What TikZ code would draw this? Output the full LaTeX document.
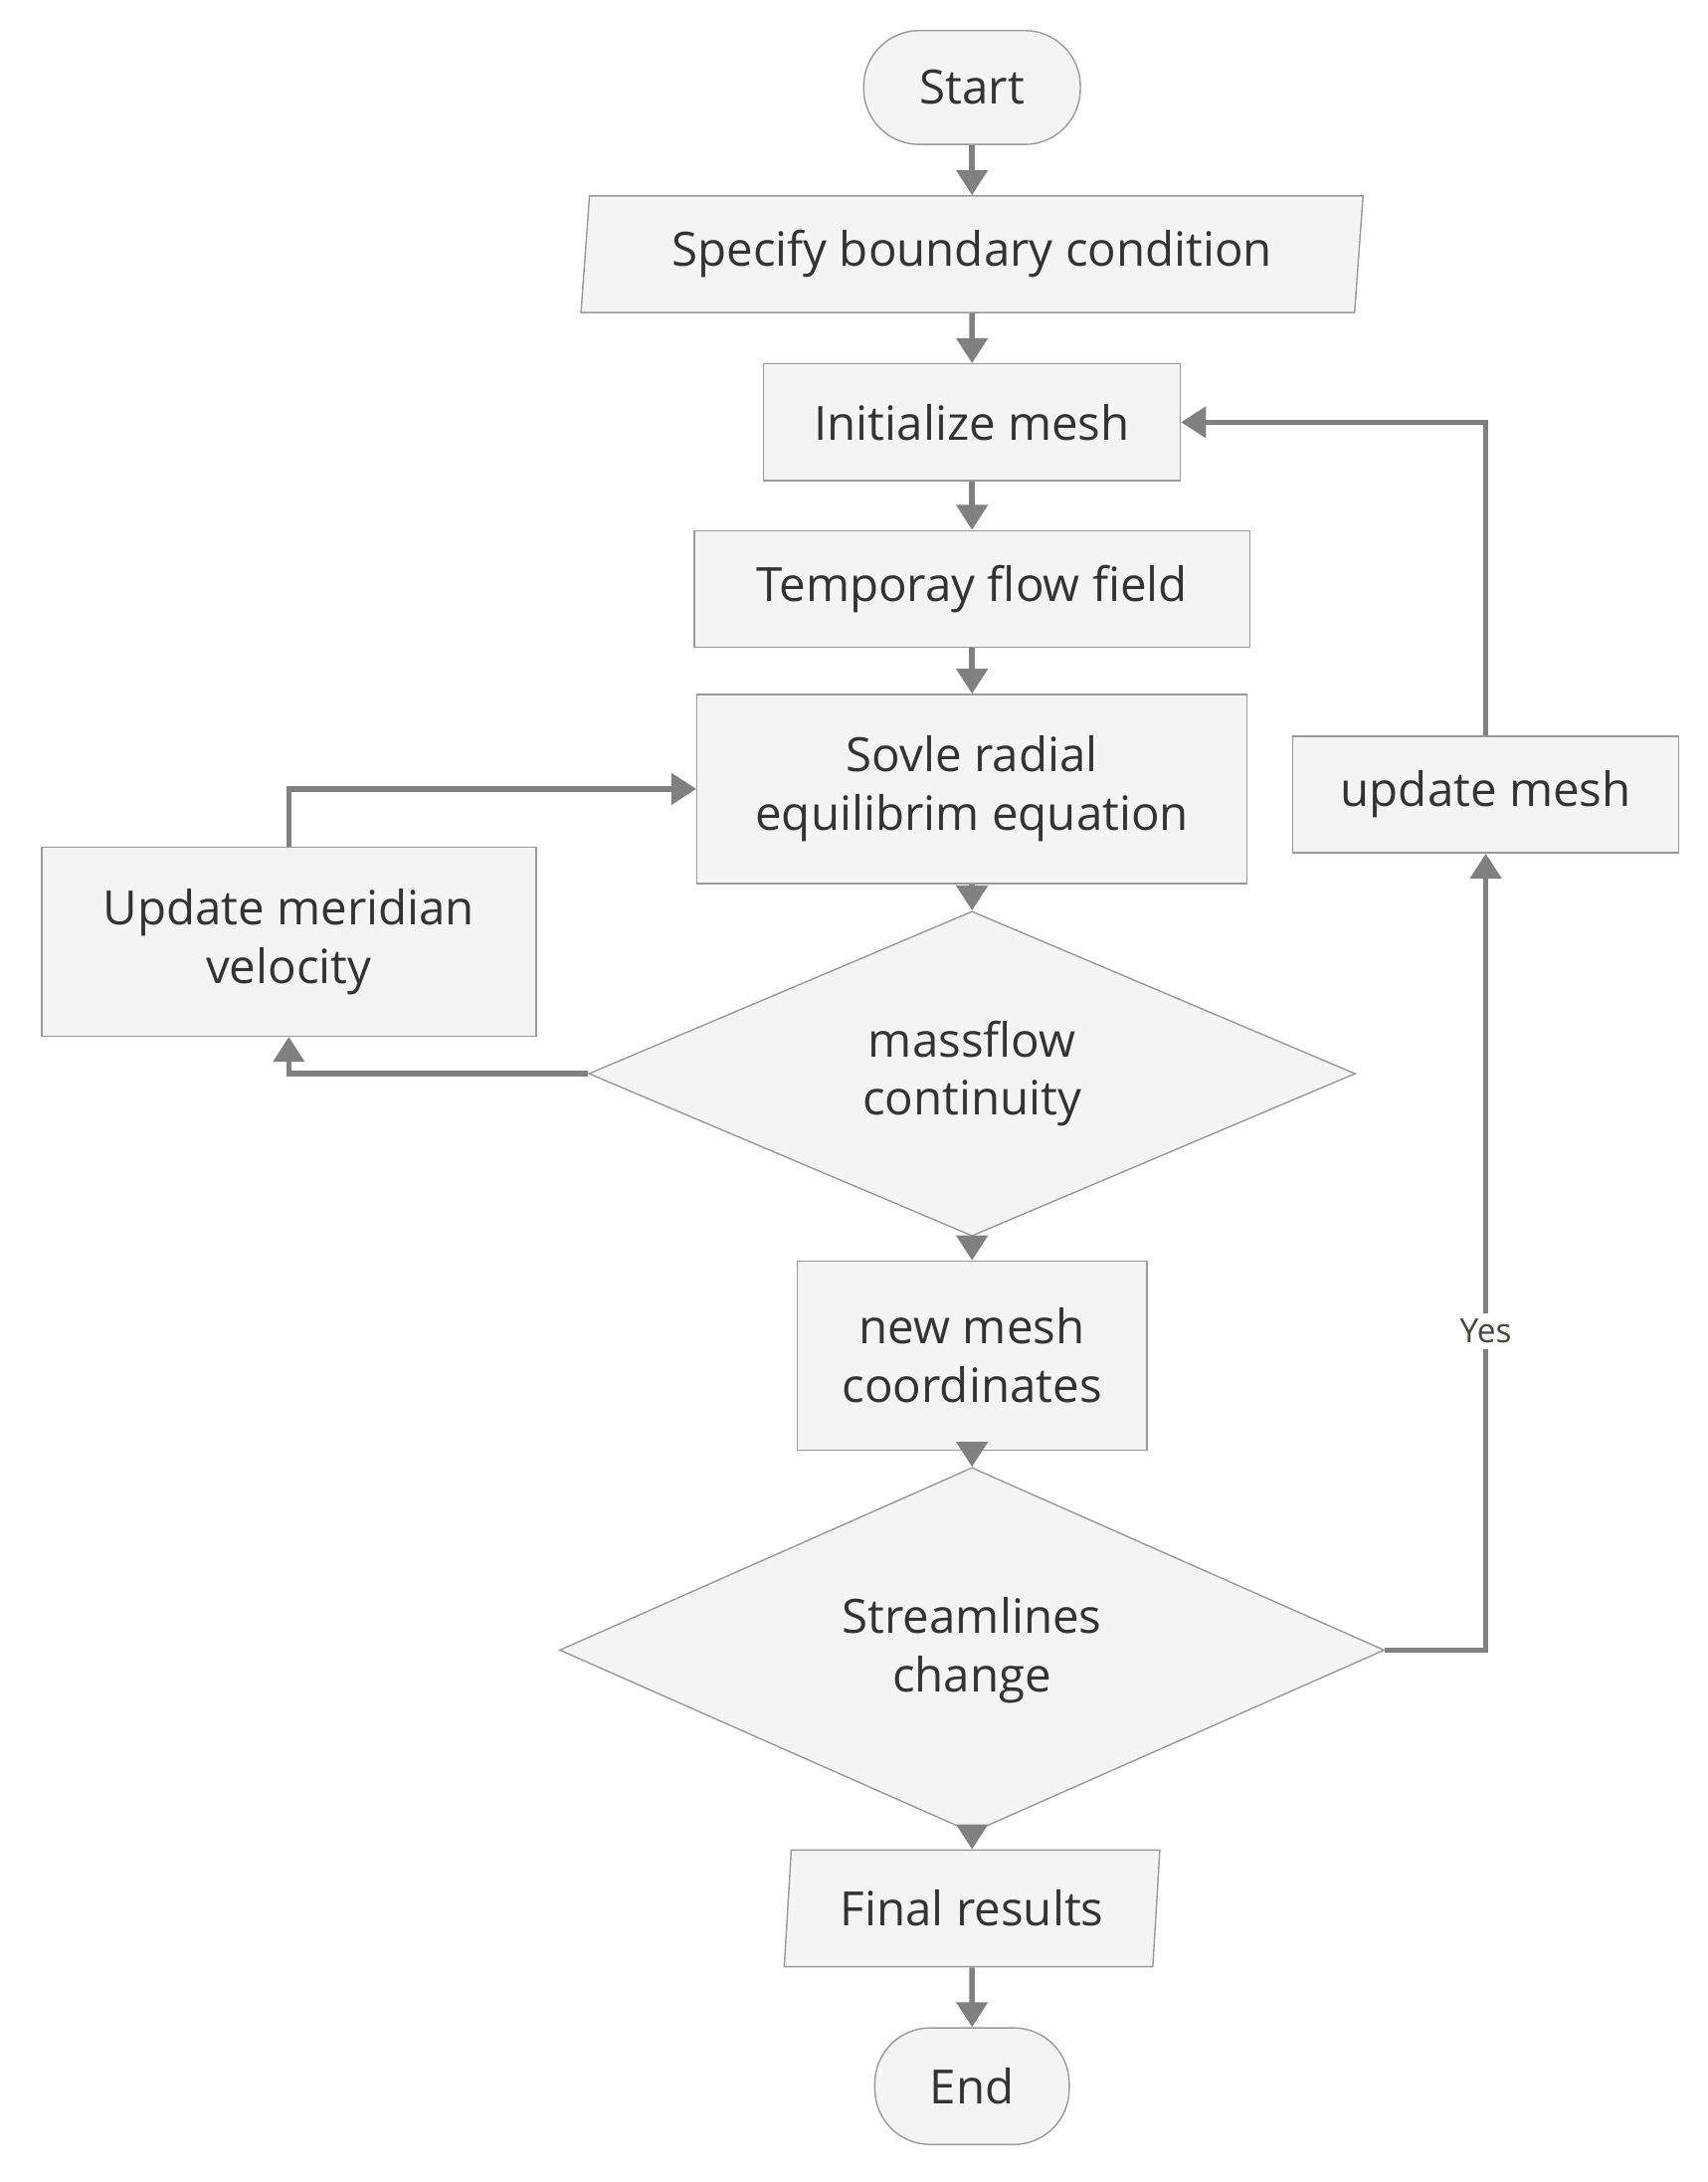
\documentclass[tikz,border=0pt]{standalone}
\usepackage{fontspec}
\setmainfont{Open Sans}
\usetikzlibrary{shapes.geometric,arrows.meta}
\definecolor{bx}{HTML}{F4F4F4}
\definecolor{bd}{HTML}{999999}
\definecolor{ar}{HTML}{808080}
\definecolor{tx}{HTML}{333333}
\begin{document}
\begin{tikzpicture}[x=0.5pt,y=-0.5pt,
  base/.style={fill=bx,draw=bd,line width=0.5pt,text=tx,font=\fontsize{17}{21}\selectfont,align=center,inner sep=0pt},
  box/.style={base,rectangle},
  term/.style={base,rounded corners=20pt},
  io/.style={base,trapezium,trapezium left angle=82,trapezium right angle=98,trapezium stretches=true},
  dec/.style={base,diamond},
  arr/.style={draw=ar,line width=2pt,-{Triangle[width=11pt,length=9pt]}}]
\useasboundingbox (0,0) rectangle (1230,1571);
\node[term,minimum width=78pt,minimum height=41pt] (start) at (700,63) {Start};
\node[io,minimum width=282pt,minimum height=42pt] (spec) at (700,183) {Specify boundary condition};
\node[box,minimum width=150pt,minimum height=42pt] (init) at (700,304) {Initialize mesh};
\node[box,minimum width=200pt,minimum height=42pt] (temp) at (700,424) {Temporay flow field};
\node[box,minimum width=198pt,minimum height=68pt] (solve) at (700,568) {Sovle radial\\equilibrim equation};
\node[box,minimum width=178pt,minimum height=68pt] (upd) at (208,678) {Update meridian\\velocity};
\node[dec,minimum width=276pt,minimum height=100pt] (mass) at (700,773) {massflow\\continuity};
\node[box,minimum width=126pt,minimum height=68pt] (newm) at (700,976) {new mesh\\coordinates};
\node[dec,minimum width=297pt,minimum height=108pt] (stream) at (700,1188) {Streamlines\\change};
\node[io,minimum width=136pt,minimum height=42pt] (final) at (700,1374) {Final results};
\node[term,minimum width=70pt,minimum height=42pt] (end) at (700,1502) {End};
\node[box,minimum width=139pt,minimum height=42pt] (um) at (1070,572) {update mesh};
\draw[arr] (start) -- (spec);
\draw[arr] (spec) -- (init);
\draw[arr] (init) -- (temp);
\draw[arr] (temp) -- (solve);
\draw[arr] (solve) -- (mass);
\draw[arr] (mass) -- (newm);
\draw[arr] (newm) -- (stream);
\draw[arr] (stream) -- (final);
\draw[arr] (final) -- (end);
\draw[arr] (mass.west) -| (upd.south);
\draw[arr] (upd.north) |- (solve.west);
\draw[arr] (stream.east) -| node[pos=0.7,fill=white,inner sep=2pt,text=black!70!yellow!60!black,font=\fontsize{12}{14}\selectfont]{Yes} (um.south);
\draw[arr] (um.north) |- (init.east);
\end{tikzpicture}
\end{document}
